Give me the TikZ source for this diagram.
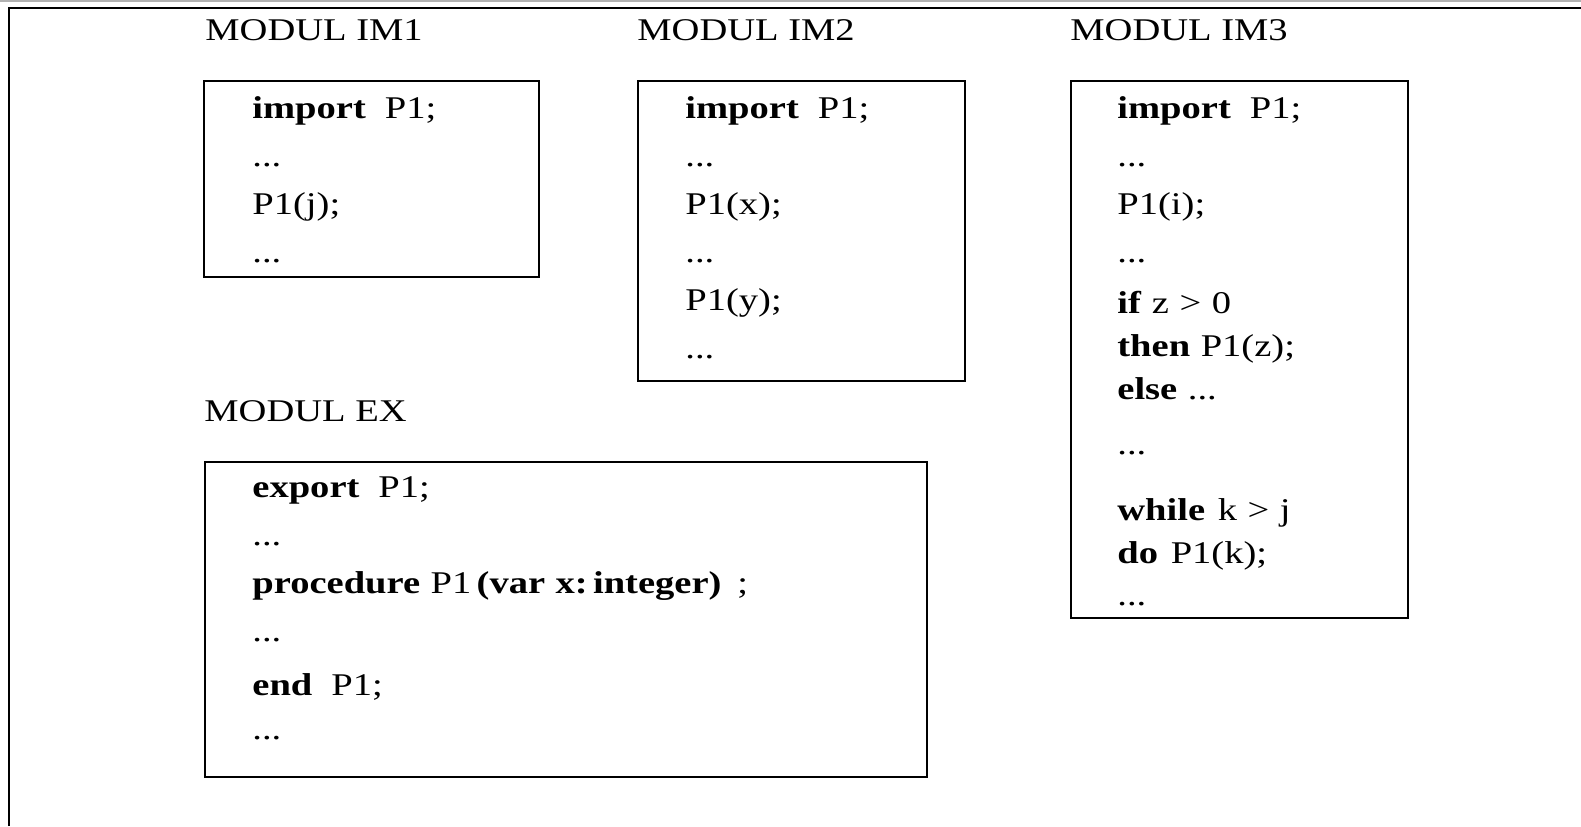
\documentclass[tikz,border=0pt]{standalone}
\usepackage{fontspec}
\setmainfont{Liberation Serif}[FakeStretch=1.22]
\usepackage{tikz}
\usetikzlibrary{positioning,calc}
\newcommand{\kw}[1]{\textbf{#1}}
\tikzset{
  modbox/.style={draw=black, line width=1pt, anchor=north west, inner sep=0pt},
  modlabel/.style={anchor=base west, inner sep=0pt, font=\fontsize{15.8}{19}\selectfont},
  codetext/.style={anchor=base west, inner sep=0pt, text width=#1, align=left, font=\fontsize{15.8}{24}\selectfont},
  codetext/.default=140pt
}

\begin{document}
\begin{tikzpicture}[x=0.5pt, y=-0.5pt]
\useasboundingbox (0,0) rectangle (1581,826);
% page frame
\fill[gray!60] (0,0) rectangle (1581,2);
\draw[line width=1.2pt] (9,826) -- (9,8) -- (1581,8);

% module boxes
\node[modbox, minimum width=167.5pt, minimum height=98pt] (im1) at (203,80) {};
\node[modbox, minimum width=163.5pt, minimum height=150pt] (im2) at (637,80) {};
\node[modbox, minimum width=168.5pt, minimum height=268.5pt] (im3) at (1070,80) {};
\node[modbox, minimum width=361pt, minimum height=157.5pt] (ex) at (204,461) {};

% module names
\node[modlabel] (lim1) at ($(im1.north west)+(1pt,20pt)$) {MODUL IM1};
\node[modlabel] (lim2) at ($(im2.north west)+(0pt,20pt)$) {MODUL IM2};
\node[modlabel] (lim3) at ($(im3.north west)+(0pt,20pt)$) {MODUL IM3};
\node[modlabel] (lex) at ($(ex.north west)+(0pt,20pt)$) {MODUL EX};

% module contents
\node[codetext] (cim1) at ($(im1.north west)+(24.5pt,-19pt)$) {\kw{import}\hspace{.6em}P1;\\
...\\
P1(j);\\
...};
\node[codetext] (cim2) at ($(im2.north west)+(24pt,-19pt)$) {\kw{import}\hspace{.6em}P1;\\
...\\
P1(x);\\
...\\
P1(y);\\
...};
\node[codetext] (cim3) at ($(im3.north west)+(23.5pt,-19pt)$) {\kw{import}\hspace{.6em}P1;\\
...\\
P1(i);\\
...\\[1.5pt]
\kw{if} z > 0\\[-2.5pt]
\kw{then} P1(z);\\[-2.5pt]
\kw{else} ...\\[3.5pt]
...\\[9pt]
\kw{while}\hspace{.4em}k > j\\[-2.5pt]
\kw{do}\hspace{.4em}P1(k);\\[-3pt]
...};
\node[codetext=320pt] (cex) at ($(ex.north west)+(24pt,-18pt)$) {\kw{export}\hspace{.6em}P1;\\
...\\
\kw{procedure} P1\,\kw{(var x:\,integer)}\hspace{.5em};\\
...\\[3pt]
\kw{end}\hspace{.6em}P1;\\[-2pt]
...};
\end{tikzpicture}
\end{document}
